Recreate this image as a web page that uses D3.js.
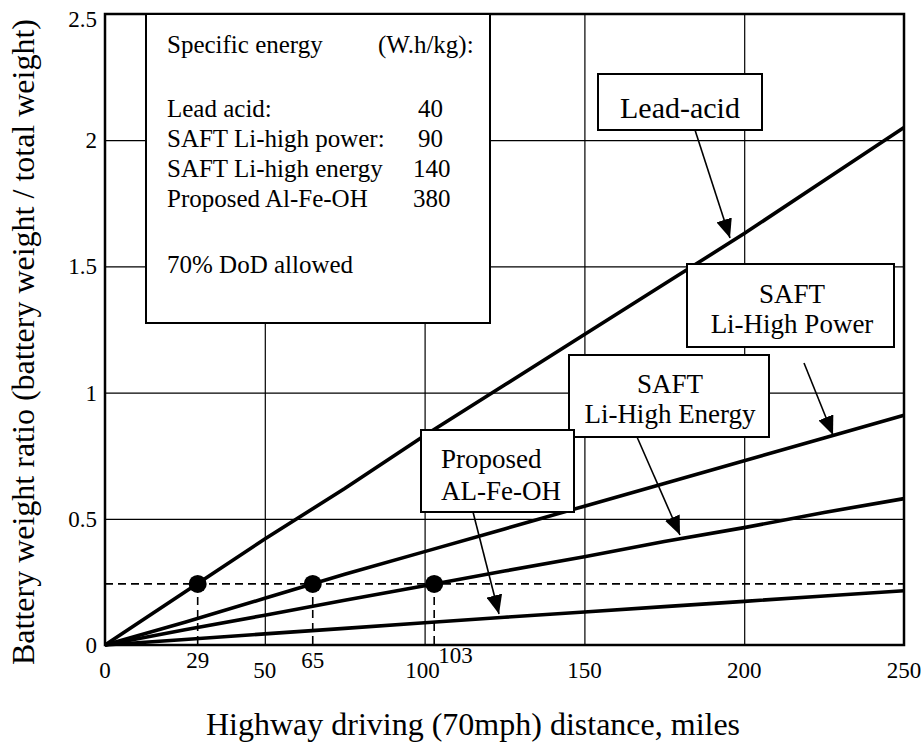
<!DOCTYPE html>
<html>
<head>
<meta charset="utf-8">
<script src="https://cdn.jsdelivr.net/npm/d3@7"></script>
<style>
  body { margin: 0; background: #fff; }
  svg { display: block; font-family: "Liberation Serif", "Times New Roman", serif; }
</style>
</head>
<body>
<svg id="svg" width="923" height="742"></svg>
<script>
// data
const distances = [0, 25, 50, 75, 100, 125, 150, 175, 200, 225, 250];
const leadAcid = [0, 0.21, 0.42, 0.62, 0.83, 1.03, 1.23, 1.43, 1.63, 1.84, 2.05];
const liHighPower = [0, 0.09, 0.185, 0.28, 0.37, 0.46, 0.55, 0.64, 0.73, 0.82, 0.91];
const liHighEnergy = [0, 0.06, 0.118, 0.177, 0.235, 0.293, 0.35, 0.41, 0.465, 0.525, 0.58];
const alFeOH = [0, 0.022, 0.044, 0.066, 0.088, 0.11, 0.131, 0.152, 0.173, 0.194, 0.215];
const targetRatio = 0.242;
const rangeMarks = [29, 65, 103];
const xTicks = [0, 50, 100, 150, 200, 250];
const yTicks = [0, 0.5, 1, 1.5, 2, 2.5];

const legendRows = [
    ["Lead acid:", "40"],
    ["SAFT Li-high power:", "90"],
    ["SAFT Li-high energy", "140"],
    ["Proposed Al-Fe-OH", "380"]
];

const svg = d3.select('#svg');
const plotL = 105, plotR = 904, plotT = 14, plotB = 645;

const x = d3.scaleLinear().domain([0, 250]).range([plotL, plotR]);
const y = d3.scaleLinear().domain([0, 2.5]).range([plotB, plotT]);

// grid
svg.append("g")
    .attr("transform", `translate(0,${plotB})`)
    .call(d3.axisBottom(x).tickValues(xTicks.slice(1, -1)).tickSize(-(plotB - plotT)).tickFormat(""))
    .call(g => g.select(".domain").remove())
    .selectAll("line").attr("stroke", "#000").attr("stroke-width", 1.2);

svg.append("g")
    .attr("transform", `translate(${plotL},0)`)
    .call(d3.axisLeft(y).tickValues(yTicks.slice(1, -1)).tickSize(-(plotR - plotL)).tickFormat(""))
    .call(g => g.select(".domain").remove())
    .selectAll("line").attr("stroke", "#000").attr("stroke-width", 1.2);

// tick labels
svg.append("g").selectAll("text").data(yTicks).join("text")
    .attr("x", 97).attr("y", d => d === 2.5 ? y(d) + 5 : y(d)).attr("dy", "0.35em")
    .attr("text-anchor", "end").attr("font-size", 23)
    .text(d => d);

svg.append("g").selectAll("text").data(xTicks).join("text")
    .attr("x", d => x(d) - (d === 100 ? 2 : 0)).attr("y", 678)
    .attr("text-anchor", "middle").attr("font-size", 23)
    .text(d => d);

svg.append("g").selectAll("text").data(rangeMarks).join("text")
    .attr("x", d => d === 103 ? x(d) + 4 : x(d))
    .attr("y", d => d === 103 ? 663 : 668)
    .attr("text-anchor", d => d === 103 ? "start" : "middle")
    .attr("font-size", 23)
    .text(d => d);

// dashed reference lines
svg.append("line")
    .attr("x1", x(0)).attr("x2", x(250))
    .attr("y1", y(targetRatio)).attr("y2", y(targetRatio))
    .attr("stroke", "#000").attr("stroke-width", 1.6).attr("stroke-dasharray", "8,5");

svg.append("g").selectAll("line").data(rangeMarks).join("line")
    .attr("x1", d => x(d)).attr("x2", d => x(d))
    .attr("y1", y(targetRatio)).attr("y2", y(0))
    .attr("stroke", "#000").attr("stroke-width", 1.6).attr("stroke-dasharray", "8,5");

// series
const renderPath = d3.line()
    .x((d, i) => x(distances[i]))
    .y(d => y(d));

[leadAcid, liHighPower, liHighEnergy, alFeOH].forEach(s => {
    svg.append("path").datum(s)
        .attr("d", renderPath)
        .attr("fill", "none").attr("stroke", "#000").attr("stroke-width", 3.6);
});

svg.append("g").selectAll("circle").data(rangeMarks).join("circle")
    .attr("cx", d => x(d)).attr("cy", y(targetRatio)).attr("r", 9).attr("fill", "#000");

// plot frame
svg.append("rect")
    .attr("x", plotL).attr("y", plotT).attr("width", plotR - plotL).attr("height", plotB - plotT)
    .attr("fill", "none").attr("stroke", "#000").attr("stroke-width", 2.5);

// legend box
const legend = svg.append("g");
legend.append("rect").attr("fill", "#fff").attr("stroke", "#000").attr("stroke-width", 2)
    .attr("x", 146).attr("y", plotT).attr("width", 490 - 146).attr("height", 323 - plotT);
legend.append("text").attr("x", 167).attr("y", 53).attr("font-size", 25).text("Specific energy");
legend.append("text").attr("x", 378).attr("y", 53).attr("font-size", 25).text("(W.h/kg):");
legendRows.forEach((r, i) => {
    legend.append("text").attr("x", 167).attr("y", 117 + i * 30).attr("font-size", 25).text(r[0]);
    legend.append("text").attr("x", r[1].length === 3 ? 413 : 418).attr("y", 117 + i * 30).attr("font-size", 25).text(r[1]);
});
legend.append("text").attr("x", 167).attr("y", 273).attr("font-size", 25).text("70% DoD allowed");

// callouts
svg.append("defs").append("marker")
    .attr("id", "arrow").attr("markerUnits", "userSpaceOnUse")
    .attr("markerWidth", 20).attr("markerHeight", 16)
    .attr("refX", 19).attr("refY", 8).attr("orient", "auto")
    .append("path").attr("d", "M0,0L19,8L0,16Z").attr("fill", "#000");

const callouts = [
    { box: [598, 74, 762, 130], lines: ["Lead-acid"], size: 30, tx: 680, ty: [118], anchor: "middle", arrow: [695, 130, 730, 238] },
    { box: [687, 264, 894, 347], lines: ["SAFT", "Li-High Power"], size: 27, tx: 792, ty: [303, 333], anchor: "middle", arrow: [804, 363, 833, 435] },
    { box: [569, 355, 769, 437], lines: ["SAFT", "Li-High Energy"], size: 27, tx: 670, ty: [393, 423], anchor: "middle", arrow: [637, 437, 680, 535] },
    { box: [421, 430, 574, 512], lines: ["Proposed", "AL-Fe-OH"], size: 27, tx: 441, ty: [468, 500], anchor: "start", arrow: [473, 512, 499, 614] }
];

callouts.forEach(c => {
    svg.append("line")
        .attr("x1", c.arrow[0]).attr("y1", c.arrow[1]).attr("x2", c.arrow[2]).attr("y2", c.arrow[3])
        .attr("stroke", "#000").attr("stroke-width", 1.6).attr("marker-end", "url(#arrow)");
    svg.append("rect")
        .attr("x", c.box[0]).attr("y", c.box[1])
        .attr("width", c.box[2] - c.box[0]).attr("height", c.box[3] - c.box[1])
        .attr("fill", "#fff").attr("stroke", "#000").attr("stroke-width", 2);
    c.lines.forEach((t, i) => {
        svg.append("text").attr("x", c.tx).attr("y", c.ty[i])
            .attr("text-anchor", c.anchor).attr("font-size", c.size).text(t);
    });
});

// axis titles
svg.append("text")
    .attr("x", 473).attr("y", 735).attr("text-anchor", "middle").attr("font-size", 32)
    .text("Highway driving (70mph) distance, miles");

svg.append("text")
    .attr("transform", "translate(34,342) rotate(-90)")
    .attr("text-anchor", "middle").attr("font-size", 32)
    .text("Battery weight ratio (battery weight / total weight)");
</script>
</body>
</html>
